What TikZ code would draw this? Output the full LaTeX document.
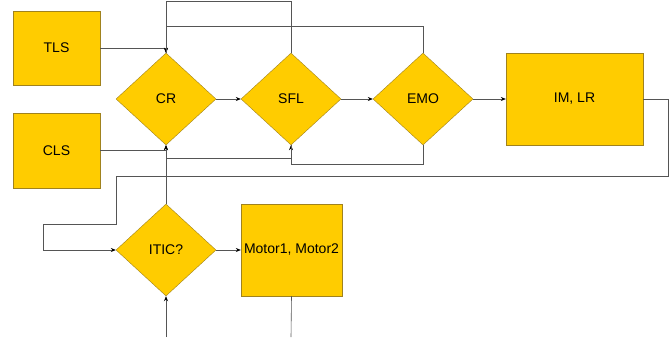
\documentclass[tikz,border=0pt]{standalone}
\usepackage{fontspec}
\setmainfont{Liberation Sans}
\usepackage{tikz}
\usetikzlibrary{shapes.geometric,arrows.meta}
\definecolor{boxfill}{RGB}{255,204,0}
\definecolor{boxline}{RGB}{160,130,30}
\definecolor{wire}{RGB}{85,85,85}

\begin{document}
\begin{tikzpicture}[x=1pt,y=-1pt,
    block/.style={draw=boxline,fill=boxfill,rectangle,inner sep=0pt,font=\fontsize{14}{16}\selectfont},
    decision/.style={draw=boxline,fill=boxfill,diamond,aspect=1.087,inner sep=0pt,
        minimum width=100pt,minimum height=92pt,font=\fontsize{14}{16}\selectfont},
    wire/.style={draw=wire,line width=0.6pt},
    arr/.style={wire,-{Stealth[length=5pt,width=4pt,color=black]}}]
        \useasboundingbox (0,0) rectangle (671,337);
        % sources
        \node[block,minimum width=87pt,minimum height=74pt] (tls) at (56.5,48) {TLS};
        \node[block,minimum width=87pt,minimum height=75pt] (cls) at (56.5,150.5) {CLS};
        % decisions on the main row
        \node[decision] (cr) at (166,99) {CR};
        \node[decision] (sfl) at (291,99) {SFL};
        \node[decision] (emo) at (423,99) {EMO};
        \node[block,minimum width=137pt,minimum height=92pt] (im) at (574.5,99) {IM, LR};
        % lower row
        \node[decision] (itic) at (166,250) {ITIC?};
        \node[block,minimum width=101pt,minimum height=92pt] (motor) at (291.5,250) {Motor1, Motor2};
        \coordinate (inbot) at (166,337);
        \coordinate (outbot) at (291,337);

        \draw[arr] (tls.east) -| (cr.north);
        \draw[arr] (cls.east) -| (cr.south);
        \draw[arr] (sfl.north) -- ++(0,-51) -| (cr.north);
        \draw[wire] (emo.north) -- ++(0,-26) -| (cr.north);
        \draw[arr] (cr.east) -- (sfl.west);
        \draw[arr] (sfl.east) -- (emo.west);
        \draw[arr] (emo.east) -- (im.west);
        \draw[arr] (itic.north) -- (cr.south);
        \draw[arr] (itic.north) -- ++(0,-46) -| (sfl.south);
        \draw[wire] (emo.south) -- ++(0,19) -| (sfl.south);
        \draw[arr] (im.east) -| (668,176) -| (116,224) -| (43,250) -- (itic.west);
        \draw[arr] (itic.east) -- (motor.west);
        \draw[arr] (inbot) -- (itic.south);
        \draw[wire] (motor.south) -- (outbot);
\end{tikzpicture}
\end{document}
